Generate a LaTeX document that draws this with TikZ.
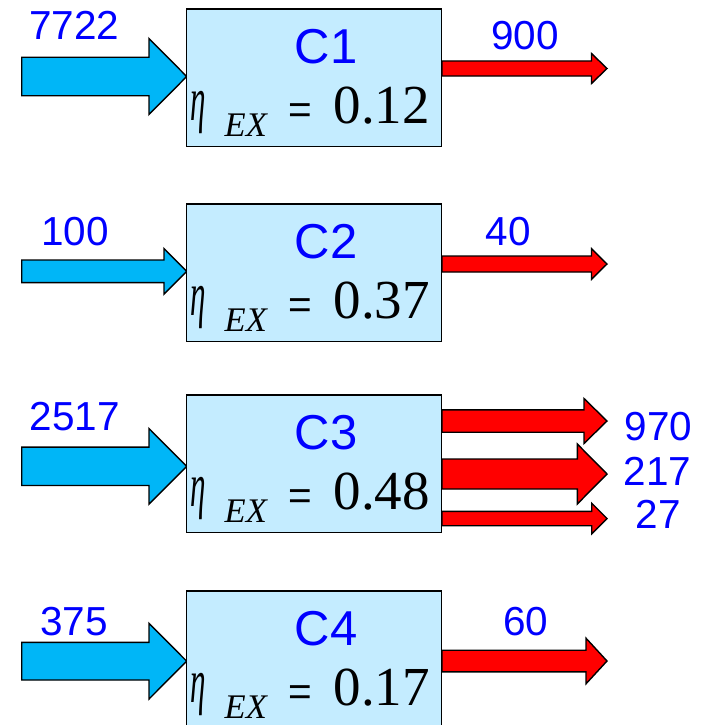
\documentclass[tikz,border=0pt]{standalone}
\usepackage{fontspec}
\usepackage{graphicx}
\newfontfamily\arialf{Liberation Sans}
\newfontfamily\serf{Liberation Serif}
\definecolor{boxfill}{HTML}{C4ECFF}
\definecolor{inblue}{HTML}{00B6F7}
\definecolor{txtblue}{HTML}{0000FF}
\definecolor{outred}{HTML}{FF0000}
\tikzset{
  compbox/.style={draw=black, line width=1.3pt, fill=boxfill, minimum width=255pt, minimum height=137.7pt, inner sep=0pt, outer sep=0pt},
  numlabel/.style={text=txtblue, inner sep=0pt, anchor=base, font=\arialf\fontsize{40.5}{48}\selectfont},
  boxlabel/.style={text=txtblue, inner sep=0pt, anchor=base, font=\arialf\fontsize{49}{58}\selectfont},
  etatext/.style={inner sep=0pt, anchor=base west, font=\serf\itshape\fontsize{62}{70}\selectfont},
  subtext/.style={inner sep=0pt, anchor=base west, font=\serf\itshape\fontsize{34.5}{42}\selectfont},
  eqtext/.style={inner sep=0pt, anchor=base west, font=\arialf\fontsize{40.5}{48}\selectfont},
  valtext/.style={inner sep=0pt, anchor=base west, font=\serf\fontsize{55}{63}\selectfont},
  arrowline/.style={draw=black, line width=1.4pt, line join=miter}
}
% tail x, head start x, tip x, centre y, shaft half, head half, colour
\newcommand{\blockarrow}[7]{%
  \filldraw[arrowline, fill=#7] ({#1},{#4-#5}) -- ({#2},{#4-#5}) -- ({#2},{#4-#6}) -- ({#3},{#4}) -- ({#2},{#4+#6}) -- ({#2},{#4+#5}) -- ({#1},{#4+#5}) -- cycle;}
% name, top y, label, value
\newcommand{\compbox}[4]{%
  \node[compbox, anchor=north west] (#1) at (186.7,#2) {};
  \node[boxlabel] (#1lab) at ({326},{#2+54.5}) {#3};
  \node[etatext] (#1eta) at ({190},{#2+111.5}) {\scalebox{0.5}[1]{η}};
  \node[subtext] (#1sub) at ({224.5},{#2+127.7}) {EX};
  \node[eqtext] (#1eq) at ({288},{#2+114}) {=};
  \node[valtext] (#1val) at ({333.5},{#2+114}) {#4};}
\begin{document}
\begin{tikzpicture}[x=1pt,y=-1pt]
\useasboundingbox (0,0) rectangle (706,725);
\clip (0,0) rectangle (706,725);
\fill[white] (0,0) rectangle (706,725);
% output arrows (behind boxes)
\blockarrow{442}{591.5}{607}{68.5}{7.5}{15}{outred}
\blockarrow{442}{591.5}{607}{264}{8}{15.3}{outred}
\blockarrow{442}{584}{607}{421}{11.2}{22.5}{outred}
\blockarrow{442}{577.3}{607}{474}{15}{30}{outred}
\blockarrow{442}{591.7}{607}{518.5}{7.2}{15.3}{outred}
\blockarrow{442}{586}{607}{661}{10.8}{22.8}{outred}
% input arrows
\blockarrow{21.7}{149}{186.7}{76.5}{19.2}{38}{inblue}
\blockarrow{21.7}{164}{186.7}{271.3}{11.3}{22.8}{inblue}
\blockarrow{21.7}{149}{186.7}{466.3}{19.2}{37.8}{inblue}
\blockarrow{21.7}{149}{186.7}{661.2}{18.8}{37.8}{inblue}
% boxes
\compbox{c1}{9}{C1}{0.12}
\compbox{c2}{204}{C2}{0.37}
\compbox{c3}{395}{C3}{0.48}
\compbox{c4}{591}{C4}{0.17}
% labels
\node[numlabel] (in1) at (74.3,39.3) {7722};
\node[numlabel] (in2) at (75,245) {100};
\node[numlabel] (in3) at (74.7,430.7) {2517};
\node[numlabel] (in4) at (74,635) {375};
\node[numlabel] (out1) at (525,50) {900};
\node[numlabel] (out2) at (508.3,245) {40};
\node[numlabel] (out3a) at (658.3,440.7) {970};
\node[numlabel] (out3b) at (657.3,485) {217};
\node[numlabel] (out3c) at (658.3,528) {27};
\node[numlabel] (out4) at (525.6,635) {60};
\end{tikzpicture}
\end{document}
